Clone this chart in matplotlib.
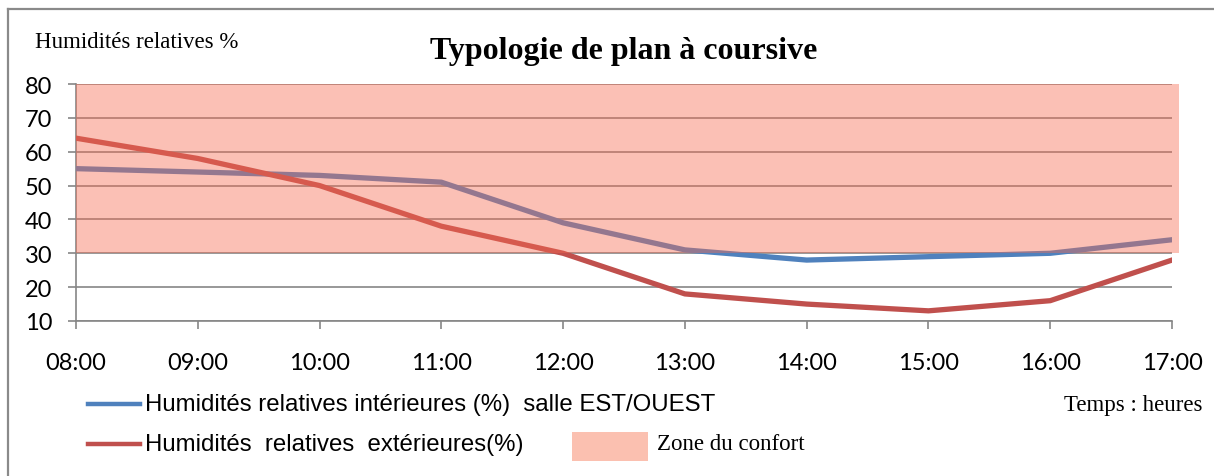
import matplotlib
matplotlib.use("Agg")
import matplotlib.pyplot as plt
from matplotlib.lines import Line2D
from matplotlib.patches import Rectangle

# hourly relative humidity readings
hours = ["08:00", "09:00", "10:00", "11:00", "12:00",
         "13:00", "14:00", "15:00", "16:00", "17:00"]
rh_inside = [55, 54, 53, 51, 39, 31, 28, 29, 30, 34]
rh_outside = [64, 58, 50, 38, 30, 18, 15, 13, 16, 28]
comfort_low, comfort_high = 30, 80

W, H = 1214, 477
BLUE = "#4F81BD"
RED = "#C0504D"
ZONE = "#F66A50"
ZONE_SWATCH = "#FBC0B0"
SERIF = "Liberation Serif"
SANS = ["Lato", "DejaVu Sans"]
LEGEND_FONT = "Liberation Sans"


def fx(x):
    return x / W


def fy(y):
    return 1 - y / H


fig = plt.figure(figsize=(W / 100, H / 100), dpi=100)
ax = fig.add_axes([fx(76), fy(322), fx(1172) - fx(76), fy(85) - fy(322)])

x = list(range(len(hours)))
ax.plot(x, rh_inside, color=BLUE, lw=3.8, solid_joinstyle="round",
        label="Humidités relatives intérieures (%)  salle EST/OUEST", zorder=3)
ax.plot(x, rh_outside, color=RED, lw=3.8, solid_joinstyle="round",
        label="Humidités  relatives  extérieures(%)", zorder=3)

# comfort band laid over the curves, running a little past the last hour
ax.add_patch(Rectangle((0, comfort_low), len(hours) - 1 + 0.06, comfort_high - comfort_low,
                       facecolor=ZONE, alpha=0.42, lw=0, zorder=4, clip_on=False))

ax.set_xlim(0, len(hours) - 1)
ax.set_ylim(10, 80)
ax.set_yticks(range(10, 81, 10))
ax.set_xticks(x)
ax.set_xticklabels(hours)
ax.yaxis.grid(True, color="#868686", lw=1.2)
ax.set_axisbelow(True)
for side in ("top", "right"):
    ax.spines[side].set_visible(False)
for side in ("left", "bottom"):
    ax.spines[side].set_color("#868686")
    ax.spines[side].set_linewidth(1.2)
ax.tick_params(axis="both", colors="#868686", length=6, width=1.2, labelcolor="black")
ax.tick_params(axis="y", pad=11)
ax.tick_params(axis="x", pad=16)
for lab in ax.get_xticklabels() + ax.get_yticklabels():
    lab.set_family(SANS)
    lab.set_fontsize(17)

# outer frame (left and top edges only show)
fig.add_artist(Line2D([fx(8), fx(8)], [fy(10), 0], color="#8a8a8a", lw=1.6))
fig.add_artist(Line2D([fx(8), 1], [fy(10), fy(10)], color="#8a8a8a", lw=1.6))

fig.text(fx(35), fy(43), "Humidités relatives %", family=SERIF, fontsize=16.5,
         ha="left", va="center")
fig.text(fx(624), fy(52), "Typologie de plan à coursive", family=SERIF, fontsize=23,
         fontweight="bold", ha="center", va="center")

# legend
for y, col, line in ((405, BLUE, ax.lines[0]), (445, RED, ax.lines[1])):
    fig.add_artist(Line2D([fx(88), fx(140)], [fy(y), fy(y)], color=col, lw=3.2))
    fig.text(fx(145), fy(y), line.get_label(), family=LEGEND_FONT, fontsize=17.3,
             ha="left", va="center")
fig.add_artist(Rectangle((fx(572), fy(462)), fx(648) - fx(572), fy(433) - fy(462),
                         transform=fig.transFigure, facecolor=ZONE_SWATCH, lw=0))
fig.text(fx(657), fy(445), "Zone du confort", family=SERIF, fontsize=16.5,
         ha="left", va="center")
fig.text(fx(1203), fy(405), "Temps : heures", family=SERIF, fontsize=16.5,
         ha="right", va="center")

fig.savefig("out.png", dpi=100)
